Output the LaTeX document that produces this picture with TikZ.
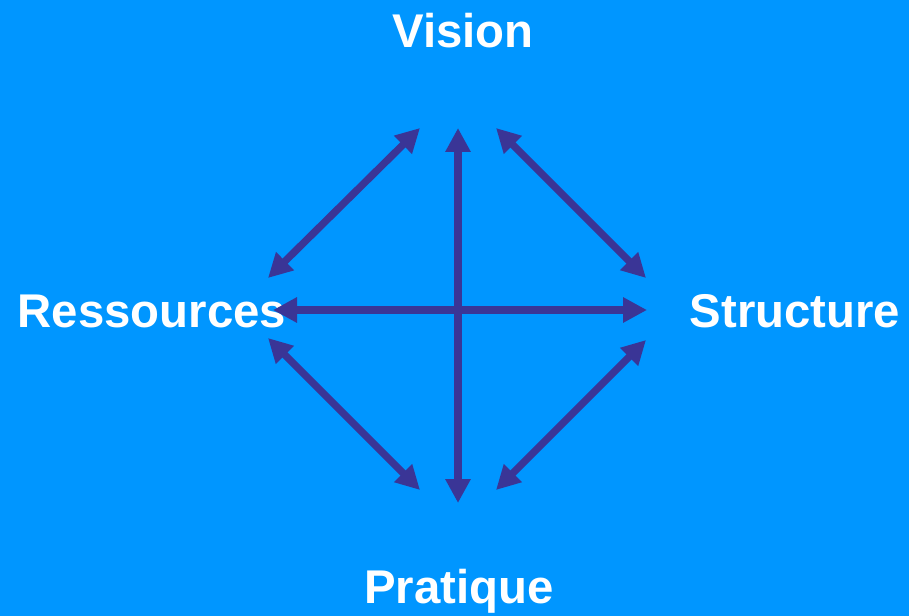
\documentclass[tikz,border=0pt]{standalone}
\usepackage{fontspec}
\setmainfont{Liberation Sans}
\usetikzlibrary{arrows.meta}
\definecolor{bgblue}{RGB}{0,150,255}
\definecolor{arrowcol}{RGB}{58,53,150}
\begin{document}
\begin{tikzpicture}[x=0.75pt,y=-0.75pt,
  lbl/.style={text=white,font=\bfseries\fontsize{35.5}{40}\selectfont,anchor=base,inner sep=0pt},
  dbl/.style={draw=arrowcol,line width=5.5pt,{Triangle[length=18pt,width=18pt]}-{Triangle[length=18pt,width=18pt]}}]
\fill[bgblue] (0,0) rectangle (909,616);
\useasboundingbox (0,0) rectangle (909,616);
\node[lbl] (vision) at (463,48) {Vision};
\node[lbl] (ress) at (152,327) {Ressources};
\node[lbl] (struct) at (795,327) {Structure};
\node[lbl] (prat) at (459,603) {Pratique};
\coordinate (vt) at (458,128);
\coordinate (vb) at (458,503);
\coordinate (hl) at (273,310);
\coordinate (hr) at (647,310);
\coordinate (tl1) at (268,278);
\coordinate (tl2) at (420,128);
\coordinate (tr1) at (496,128);
\coordinate (tr2) at (646,278);
\coordinate (bl1) at (268,338);
\coordinate (bl2) at (420,490);
\coordinate (br1) at (496,490);
\coordinate (br2) at (646,340);
\draw[dbl] (vb) -- (vt);
\draw[dbl] (hl) -- (hr);
\draw[dbl] (tl1) -- (tl2);
\draw[dbl] (tr1) -- (tr2);
\draw[dbl] (bl1) -- (bl2);
\draw[dbl] (br1) -- (br2);
\end{tikzpicture}
\end{document}
